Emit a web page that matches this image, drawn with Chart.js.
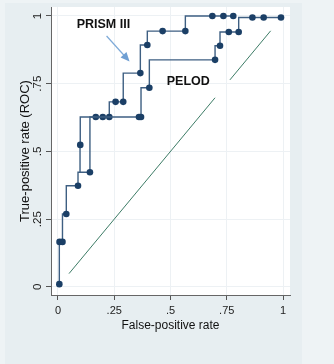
<!DOCTYPE html>
<html>
<head>
<meta charset="utf-8">
<script src="https://cdn.jsdelivr.net/npm/chart.js@4.4.1/dist/chart.umd.min.js"></script>
<style>
  html, body { margin: 0; padding: 0; background: #eef3f5; }
  #wrap { position: relative; width: 334px; height: 364px; }
</style>
</head>
<body>
<div id="wrap"><canvas id="roc" width="334" height="364"></canvas></div>
<script>
// ROC points (false-positive rate, true-positive rate)
const prismFpr = [0.098, 0.099, 0.168, 0.199, 0.228, 0.256, 0.290, 0.366, 0.397, 0.465, 0.566, 0.686, 0.735, 0.779];
const prismTpr = [0.423, 0.524, 0.627, 0.627, 0.627, 0.683, 0.683, 0.789, 0.893, 0.944, 0.944, 1.000, 1.000, 1.000];

const pelodFpr = [0.006, 0.007, 0.020, 0.037, 0.089, 0.142, 0.360, 0.369, 0.406, 0.698, 0.720, 0.759, 0.803, 0.864, 0.914, 0.991];
const pelodTpr = [0.010, 0.166, 0.166, 0.269, 0.373, 0.423, 0.627, 0.627, 0.735, 0.838, 0.890, 0.941, 0.941, 0.994, 0.994, 0.994];

// reference diagonal, broken where the picture has a white patch
const diagFpr = [0.049, 0.698, 0.730, 0.764, 0.945];
const diagTpr = [0.049, 0.698, null, 0.764, 0.945];

const tickValues = [0, 0.25, 0.5, 0.75, 1];
const tickLabels = ['0', '.25', '.5', '.75', '1'];

const FONT = 'Arial, "Liberation Sans", sans-serif';
const NAVY = '#1b3f66';

const toPoints = (xs, ys) => xs.map((x, i) => ({ x: x, y: ys[i] }));
const tickText = v => {
  const i = tickValues.findIndex(t => Math.abs(t - v) < 1e-9);
  return i >= 0 ? tickLabels[i] : '';
};
const fixTicks = scale => { scale.ticks = tickValues.map(v => ({ value: v })); };

// panel backgrounds like the Stata scheme
const backdrop = {
  id: 'backdrop',
  beforeDraw(chart) {
    const { ctx, chartArea: a } = chart;
    ctx.save();
    ctx.fillStyle = '#eef3f5';
    ctx.fillRect(0, 0, chart.width, chart.height);
    ctx.fillStyle = '#e7eef1';
    ctx.fillRect(5, 3, 297, 361);
    ctx.fillStyle = '#ffffff';
    ctx.fillRect(a.left, a.top, a.right - a.left, a.bottom - a.top);
    ctx.restore();
  }
};

// text labels and the arrow pointing at the PRISM III curve
const notes = {
  id: 'notes',
  afterDatasetsDraw(chart) {
    const { ctx, scales: { x, y } } = chart;
    ctx.save();
    ctx.fillStyle = '#111';
    ctx.font = 'bold 12.5px ' + FONT;
    ctx.textAlign = 'center';
    ctx.textBaseline = 'middle';
    ctx.fillText('PRISM III', x.getPixelForValue(0.202), y.getPixelForValue(0.97));
    ctx.fillText('PELOD', x.getPixelForValue(0.579), y.getPixelForValue(0.758));

    const x0 = x.getPixelForValue(0.216), y0 = y.getPixelForValue(0.926);
    const x1 = x.getPixelForValue(0.318), y1 = y.getPixelForValue(0.832);
    const ang = Math.atan2(y1 - y0, x1 - x0);
    ctx.strokeStyle = '#7eaad8';
    ctx.fillStyle = '#6f9fd3';
    ctx.lineWidth = 1.2;
    ctx.beginPath();
    ctx.moveTo(x0, y0);
    ctx.lineTo(x1 - 6 * Math.cos(ang), y1 - 6 * Math.sin(ang));
    ctx.stroke();
    ctx.beginPath();
    ctx.moveTo(x1, y1);
    ctx.lineTo(x1 - 9 * Math.cos(ang) + 4 * Math.sin(ang), y1 - 9 * Math.sin(ang) - 4 * Math.cos(ang));
    ctx.lineTo(x1 - 9 * Math.cos(ang) - 4 * Math.sin(ang), y1 - 9 * Math.sin(ang) + 4 * Math.cos(ang));
    ctx.closePath();
    ctx.fill();
    ctx.restore();
  }
};

new Chart(document.getElementById('roc'), {
  type: 'line',
  data: {
    datasets: [
      {
        label: 'Reference',
        data: toPoints(diagFpr, diagTpr),
        borderColor: '#3d7c66',
        borderWidth: 1,
        pointRadius: 0,
        spanGaps: false
      },
      {
        label: 'PELOD',
        data: toPoints(pelodFpr, pelodTpr),
        stepped: 'after',
        borderColor: '#3e5f82',
        borderWidth: 1.4,
        pointRadius: 3.3,
        pointBackgroundColor: NAVY,
        pointBorderColor: NAVY,
        pointBorderWidth: 0
      },
      {
        label: 'PRISM III',
        data: toPoints(prismFpr, prismTpr),
        stepped: 'after',
        borderColor: '#3e5f82',
        borderWidth: 1.4,
        pointRadius: prismFpr.map((v, i) => (i === 0 ? 0 : 3.3)),
        pointBackgroundColor: NAVY,
        pointBorderColor: NAVY,
        pointBorderWidth: 0
      }
    ]
  },
  options: {
    responsive: false,
    animation: false,
    layout: { padding: { left: 0, right: 44, top: 7, bottom: 0 } },
    plugins: {
      legend: { display: false },
      tooltip: { enabled: false }
    },
    scales: {
      x: {
        type: 'linear',
        min: -0.031,
        max: 1.031,
        afterBuildTicks: fixTicks,
        afterFit: s => { s.height = 69; },
        border: { color: '#666', width: 1 },
        grid: { color: '#edf1f4', tickColor: '#555', tickLength: 5 },
        ticks: {
          autoSkip: false,
          maxRotation: 0,
          padding: 4,
          color: '#222',
          font: { family: FONT, size: 11 },
          callback: v => tickText(v)
        },
        title: {
          display: true,
          text: 'False-positive rate',
          color: '#111',
          font: { family: FONT, size: 12 },
          padding: { top: 0, bottom: 31 }
        }
      },
      y: {
        type: 'linear',
        min: -0.03,
        max: 1.033,
        afterBuildTicks: fixTicks,
        afterFit: s => { s.width = 51; },
        border: { color: '#666', width: 1 },
        grid: { color: '#edf1f4', tickColor: '#555', tickLength: 5 },
        ticks: {
          autoSkip: false,
          minRotation: 90,
          maxRotation: 90,
          crossAlign: 'center',
          padding: 0,
          color: '#222',
          font: { family: FONT, size: 11.5 },
          callback: v => tickText(v)
        },
        title: {
          display: true,
          text: 'True-positive rate (ROC)',
          color: '#111',
          font: { family: FONT, size: 13 },
          padding: { top: 18, bottom: 0 }
        }
      }
    }
  },
  plugins: [backdrop, notes]
});
</script>
</body>
</html>
